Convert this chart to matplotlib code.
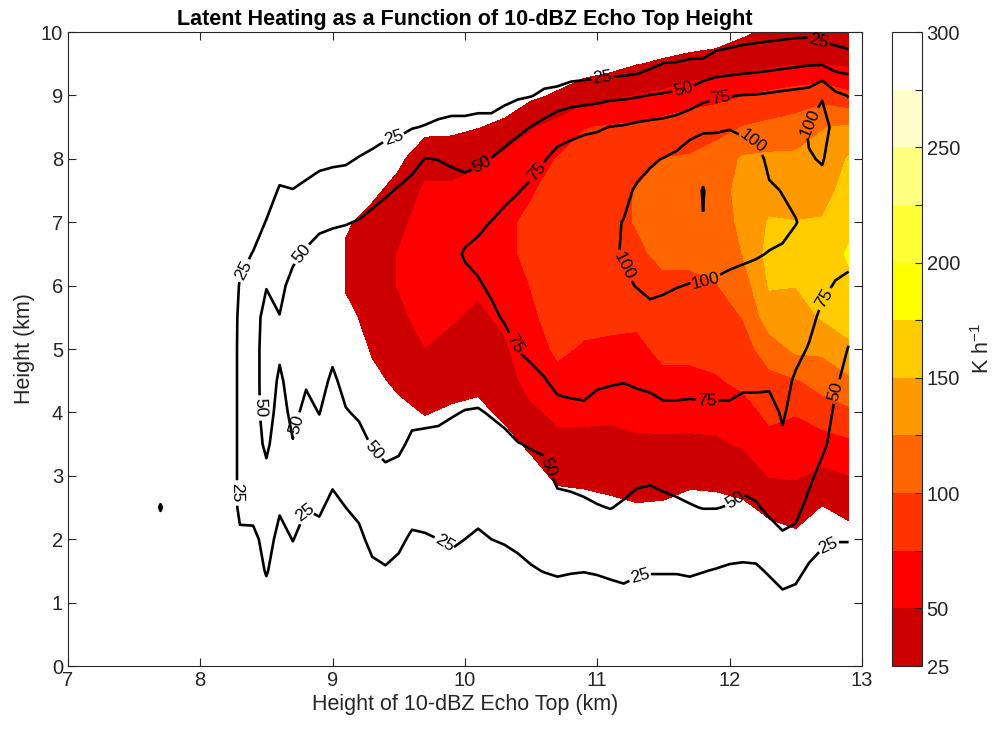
import numpy as np
import matplotlib
matplotlib.use('Agg')
import matplotlib.pyplot as plt
from matplotlib.colors import ListedColormap, BoundaryNorm

plt.rcParams['font.family'] = ['Liberation Sans', 'DejaVu Sans']
plt.rcParams['mathtext.default'] = 'regular'

# heights of the profile levels (km), shared by both fields
height_km = np.arange(0, 10.01, 0.5)

# shaded field: latent heating (K/h), one vertical profile per echo-top bin
fill_echo_top = np.round(np.arange(9.1, 12.95, 0.2), 1)
fill_profiles = [
    [0, 0, 0, 0, 0, 0, 0, 0, 0, 5, 10, 18, 27, 28, 22, 12, 5, 0, 0, 0, 0],              # 9.1
    [0, 0, 0, 0, 0, 0, 0, 8, 15, 20, 27, 33, 38, 40, 33, 20, 8, 0, 0, 0, 0],            # 9.3
    [0, 0, 0, 0, 0, 0, 3, 10, 20, 29, 38, 45, 51, 51, 44, 33, 20, 8, 0, 0, 0],          # 9.5
    [0, 0, 0, 0, 0, 0, 5, 15, 26, 38, 49.5, 58, 63, 64, 60, 54, 40, 18, 5, 0, 0],       # 9.7
    [0, 0, 0, 0, 0, 0, 3, 12, 22, 33, 43, 52, 60, 64, 62, 55, 38, 20, 6, 0, 0],         # 9.9
    [0, 0, 0, 0, 0, 0, 2, 10, 20, 30, 38, 45, 54, 62, 65, 59, 45, 24, 8, 0, 0],         # 10.1
    [0, 0, 0, 0, 0, 0, 8, 18, 29, 38, 46, 55, 64, 70, 71, 66, 56, 30, 12, 0, 0],        # 10.3
    [0, 0, 0, 0, 0, 5, 17, 29, 45, 60, 67, 72, 75.5, 80, 79, 73, 64, 48, 20, 5, 0],     # 10.5
    [0, 0, 0, 0, 5, 16, 29, 44, 55, 70, 78, 82, 85, 87, 86, 83, 76, 58, 28, 8, 0],      # 10.7
    [0, 0, 0, 0, 6, 18, 30, 45, 54, 63, 73, 80, 86, 90, 92, 91, 85, 74, 40, 12, 0],     # 10.9
    [0, 0, 0, 0, 8, 20, 33, 45, 53, 62, 71, 80, 87, 92, 95, 94, 88, 77, 45, 17, 2],     # 11.1
    [0, 0, 0, 0, 10, 23, 36, 47, 55, 62, 70, 79, 89, 97, 101, 101, 93, 80, 50.5, 24, 8],  # 11.3
    [0, 0, 0, 0, 10, 22, 35, 47, 56, 70, 80, 88, 96, 104, 110, 110, 100.5, 85, 55, 28, 10],  # 11.5
    [0, 0, 0, 0, 5, 17, 31, 46, 57, 70, 80, 88, 96, 104, 111, 114, 102, 88, 64, 32, 12],  # 11.7
    [0, 0, 0, 0, 6, 18, 32, 47, 58, 73, 82, 90, 99, 107, 113, 117, 110, 92, 68, 35, 14],  # 11.9
    [0, 0, 0, 0, 8, 21, 36, 52, 66, 80, 90, 100.5, 112, 125.5, 130, 131, 128, 100.5, 74, 38, 22],  # 12.1
    [0, 0, 0, 5, 16, 30, 51, 68, 80, 93, 112, 138, 152, 158, 152, 140, 130, 106, 80, 45, 28],  # 12.3
    [0, 0, 0, 8, 20, 35, 52, 66, 76, 98, 130, 140, 150.5, 156, 150.5, 140, 130, 110, 86, 48, 30],  # 12.5
    [0, 0, 0, 5, 12, 24, 45, 62, 90, 108, 130, 152, 158, 160, 152, 140, 132, 124, 90, 49.5, 30],  # 12.7
    [0, 0, 0, 6, 15, 32, 49, 70, 95, 120, 145, 160, 170, 178, 168, 160, 152, 128, 80, 46, 30],  # 12.9
]

# contoured field (K/h), one profile per 0.1 km echo-top bin
line_echo_top = np.round(np.arange(7.6, 12.95, 0.1), 1)
line_profiles = [
    [0] * 21,                                                                      # 7.6
    [0, 0, 0, 0, 0, 28, 0, 0, 0, 0, 0, 0, 0, 0, 0, 0, 0, 0, 0, 0, 0],              # 7.7
    [0] * 21,                                                                      # 7.8
    [0] * 21,                                                                      # 7.9
    [0] * 21,                                                                      # 8.0
    [0] * 21,                                                                      # 8.1
    [0] * 21,                                                                      # 8.2
    [0, 0, 0, 5, 20, 31, 32, 32, 32, 32, 32, 31, 27, 18, 8, 0, 0, 0, 0, 0, 0],     # 8.3
    [0, 0, 5, 12, 19, 33, 38, 40, 40, 40, 40, 40, 36, 26, 15, 5, 0, 0, 0, 0, 0],   # 8.4
    [0, 3, 15, 27, 33, 40, 45, 54, 60, 61, 61, 58, 49, 38, 26, 15, 5, 0, 0, 0, 0],  # 8.5
    [0, 0, 5, 12, 19, 27, 34, 38, 42, 47, 53, 50.5, 45, 38, 33, 27, 15, 5, 0, 0, 0],  # 8.6
    [0, 2, 8, 18, 25.5, 35, 43, 49, 55, 58, 60, 60, 56, 46, 36, 25.5, 15, 5, 0, 0, 0],  # 8.7
    [0, 0, 5, 12, 19, 25.5, 32, 39, 45, 52, 57, 59, 58, 52, 42, 29, 17, 6, 0, 0, 0],  # 8.8
    [0, 0, 6, 13, 20, 27, 35, 43, 50.5, 56, 60, 62, 62, 57, 46, 33, 20, 8, 0, 0, 0],  # 8.9
    [0, 0, 5, 10, 15, 21, 28, 35, 41, 47, 54, 59, 62, 58, 48, 36, 21, 9, 0, 0, 0],  # 9.0
    [0, 2, 7, 14, 20, 25, 31, 39, 49, 55, 60, 63, 64, 60, 49, 37, 22, 10, 3, 0, 0],  # 9.1
    [0, 2, 8, 15, 21, 29, 37, 45, 52, 58, 62, 65, 66, 63, 51, 40, 26, 12, 4, 0, 0],  # 9.2
    [0, 4, 12, 21, 30, 38, 45, 51, 57, 61, 64, 66, 67, 65, 56, 42, 29, 16, 5, 0, 0],  # 9.3
    [0, 5, 14, 23.5, 32, 40, 47, 54, 59, 63, 66, 68, 69, 67, 60, 47, 33, 19, 7, 0, 0],  # 9.4
    [0, 3, 11, 20, 29, 37, 45, 53, 59, 63, 66, 68, 70, 69, 64, 52, 37, 20, 8, 0, 0],  # 9.5
    [0, 2, 6, 13, 22, 32, 40, 47, 54, 60, 64, 67, 70, 70, 66, 57, 43, 24, 10, 0, 0],  # 9.6
    [0, 2, 7, 14, 23, 33, 40, 47, 53, 59, 64, 68, 71, 71, 68, 60, 50.5, 26, 12, 2, 0],  # 9.7
    [0, 3, 8, 16, 25, 33, 40, 46, 53, 59, 64, 68, 72, 72, 69, 61, 49.5, 29, 13, 3, 0],  # 9.8
    [0, 3, 10, 18, 28, 35, 41, 45, 51, 58, 64, 69, 72, 72, 70, 61, 46, 31, 14, 3, 0],  # 9.9
    [0, 3, 8, 16, 25, 33, 39, 44, 49.5, 56, 62, 67, 72, 76, 71, 58, 44, 31, 14, 3, 0],  # 10.0
    [0, 2, 7, 14, 22, 31, 37, 43, 49, 56, 62, 68, 73, 80, 71, 62, 46, 32, 16, 4, 0],  # 10.1
    [0, 3, 9, 17, 25, 33, 39, 45, 51, 58, 64, 71, 78, 82, 75.5, 64, 50.5, 32, 16, 4, 0],  # 10.2
    [0, 3, 10, 18, 26.5, 35, 41, 47, 53, 60, 67, 77, 84, 86, 80, 70, 56, 40, 18, 5, 0],  # 10.3
    [0, 4, 12, 20, 29, 37, 44, 49.5, 57, 66, 75.5, 82, 87, 89, 84, 74, 62, 45, 22, 5, 0],  # 10.4
    [0, 5, 14, 23.5, 31, 38, 45, 51, 61, 70, 79, 85, 90, 92, 88, 79, 67, 50.5, 24, 7, 0],  # 10.5
    [0, 5, 15, 25.5, 33, 40, 45, 53, 66, 74, 82, 88, 92, 94, 91, 84, 74, 58, 29, 10, 0],  # 10.6
    [0, 5, 16, 27, 36, 44, 54, 62, 70, 79, 85, 90, 94, 96, 93, 88, 80, 67, 33, 5, 0],  # 10.7
    [0, 5, 15, 26, 36, 45, 55, 63, 71, 80, 86, 91, 95, 97, 95, 90, 82, 70, 38, 8, 0],  # 10.8
    [0, 5, 14, 25.5, 36, 47, 56, 64, 72, 80, 87, 92, 96, 98, 97, 92, 84, 72, 40, 9, 0],  # 10.9
    [0, 5, 15, 26.5, 38, 49, 58, 65, 70, 77, 86, 92, 97, 99, 98, 94, 86, 73, 42, 10, 0],  # 11.0
    [0, 6, 17, 28, 39, 50.5, 58, 64, 70, 76, 85, 92, 96, 98, 97.5, 95, 88, 75.5, 45, 11, 0],  # 11.1
    [0, 6, 19, 29, 39, 48, 56, 63, 69, 75.5, 84, 92, 98, 101, 100.5, 96, 89, 77, 46, 12, 0],  # 11.2
    [0, 6, 17, 27, 36, 44, 54, 62, 69, 77, 86, 94, 100.5, 104, 105, 102, 94, 80, 48, 14, 0],  # 11.3
    [0, 6, 16, 26, 35, 43, 53, 63, 70, 78, 88, 96, 103, 107, 108, 105, 98, 82, 50.5, 20, 5],  # 11.4
    [0, 6, 16, 26, 36, 45, 55, 64, 72, 80, 88, 95, 102, 108, 110, 108, 100.5, 84, 52, 25.5, 6],  # 11.5
    [0, 6, 16, 26, 37, 47, 56, 64, 72, 80, 87, 94, 100.5, 107, 110, 109, 104, 88, 54, 26, 7],  # 11.6
    [0, 6, 16, 27, 38, 49, 57, 64, 72, 79, 86, 93, 99.5, 106, 109, 109, 106, 96, 58, 28, 8],  # 11.7
    [0, 5, 15, 25.5, 38, 50.5, 58, 65, 72, 80, 87, 93, 99, 108, 100.5, 99, 108, 98, 68, 28, 10],  # 11.8
    [0, 5, 14, 24, 37, 50.5, 59, 66, 72, 80, 87, 93, 98, 105, 108, 110, 109, 98, 72, 34, 12],  # 11.9
    [0, 4, 12, 22, 36, 49, 59, 66, 72, 80, 87, 93, 97, 103, 109, 112, 111, 99, 74, 36, 14],  # 12.0
    [0, 4, 12, 22, 33, 45, 57, 64, 70, 78, 86, 92, 96, 102, 110, 113, 110, 96, 75.5, 38, 16],  # 12.1
    [0, 4, 12, 22, 35, 48, 58, 64, 70, 78, 86, 91, 95, 101, 109, 112, 106, 94, 76, 40, 17],  # 12.2
    [0, 5, 15, 27, 41, 54, 60, 64, 69, 78, 85, 90, 94, 99.5, 104, 102, 96, 90, 78, 42, 18],  # 12.3
    [0, 7, 20, 32, 47, 58, 66, 72, 77, 80, 84, 88, 93, 98.5, 103, 99.5, 95, 89, 80, 44, 19],  # 12.4
    [0, 6, 18, 30, 45, 55, 61, 65, 69, 73, 79, 85, 90, 95, 100.5, 97, 96, 92, 82, 46, 20],  # 12.5
    [0, 4, 12, 22, 34, 45, 54, 60, 65, 70, 74, 79, 86, 91, 96, 97, 99, 102, 84, 48, 20],  # 12.6
    [0, 2, 8, 18, 28, 36, 44, 54, 60, 65, 69, 72, 78, 85, 91, 96, 101, 105, 99, 48, 15],  # 12.7
    [0, 1, 5, 15, 26, 33, 38, 43, 47, 52, 60, 67, 74, 80, 86, 91, 94, 96, 80, 40, 14],  # 12.8
    [0, 1, 5, 15, 26, 30, 34, 38, 42, 45, 49, 59, 71, 80, 85, 89, 90, 88, 74, 38, 10],  # 12.9
]

fill_levels = [25, 50, 75, 100, 125, 150, 175, 200, 225, 250, 275, 300]
line_levels = [25, 50, 75, 100]
cbar_labels = [25, 50, 100, 150, 200, 250, 300]
band_colors = ['#CC0000', '#FF0000', '#FF3300', '#FF6600', '#FF9900', '#FFCC00',
               '#FFFF00', '#FFFF33', '#FFFF80', '#FFFFCC', '#FFFFFF']

fill_z = np.array(fill_profiles, dtype=float).T
line_z = np.array(line_profiles, dtype=float).T

cmap = ListedColormap(band_colors)
norm = BoundaryNorm(fill_levels, cmap.N)
ink = '#262626'

fig = plt.figure(figsize=(9.98, 7.31), dpi=100)
ax = fig.add_axes([0.068, 0.0889, 0.7956, 0.8673])

cf = ax.contourf(fill_echo_top, height_km, fill_z, levels=fill_levels,
                 cmap=cmap, norm=norm)
cs = ax.contour(line_echo_top, height_km, line_z, levels=line_levels,
                colors='k', linewidths=1.9)

# where the contour labels sit
label_spots = [
    (8.32, 6.25), (8.29, 2.73), (8.78, 2.43), (9.84, 1.91), (11.32, 1.44),
    (12.74, 1.94), (9.46, 8.34), (11.04, 9.29), (12.68, 9.92),
    (8.75, 6.53), (8.46, 4.07), (8.74, 3.80), (9.30, 3.37), (10.14, 7.87),
    (11.65, 9.10), (10.63, 3.14), (12.04, 2.62), (12.82, 4.32),
    (10.57, 7.74), (10.36, 5.06), (11.83, 4.17), (11.93, 8.97), (12.70, 5.82),
    (11.21, 6.32), (11.81, 6.14), (12.19, 8.34), (12.66, 8.49),
]
ax.clabel(cs, fmt='%d', fontsize=12.5, inline=True, inline_spacing=3,
          manual=label_spots)

ax.set_xlim(7, 13)
ax.set_ylim(0, 10)
ax.set_xticks(range(7, 14))
ax.set_yticks(range(0, 11))
ax.tick_params(direction='in', top=True, right=True, length=6, width=0.8,
               labelsize=14.5, colors=ink, labelcolor=ink)
for sp in ax.spines.values():
    sp.set_color(ink)
    sp.set_linewidth(0.8)

ax.set_title('Latent Heating as a Function of 10-dBZ Echo Top Height',
             fontsize=15.5, fontweight='bold', pad=5)
ax.set_xlabel('Height of 10-dBZ Echo Top (km)', fontsize=15.5, color=ink,
              labelpad=3)
ax.set_ylabel('Height (km)', fontsize=15.5, color=ink, labelpad=4)

cax = fig.add_axes([0.8935, 0.0889, 0.030, 0.8673])
cb = fig.colorbar(cf, cax=cax, ticks=fill_levels)
cb.ax.set_yticklabels([str(v) if v in cbar_labels else '' for v in fill_levels])
cb.ax.tick_params(direction='in', length=5, width=0.8, labelsize=14.5,
                  colors=ink, labelcolor=ink)
cb.outline.set_edgecolor(ink)
cb.outline.set_linewidth(0.8)
cb.set_label('K h$^{-1}$', fontsize=15.5, color=ink, labelpad=8)

fig.savefig('out.png', dpi=100)
